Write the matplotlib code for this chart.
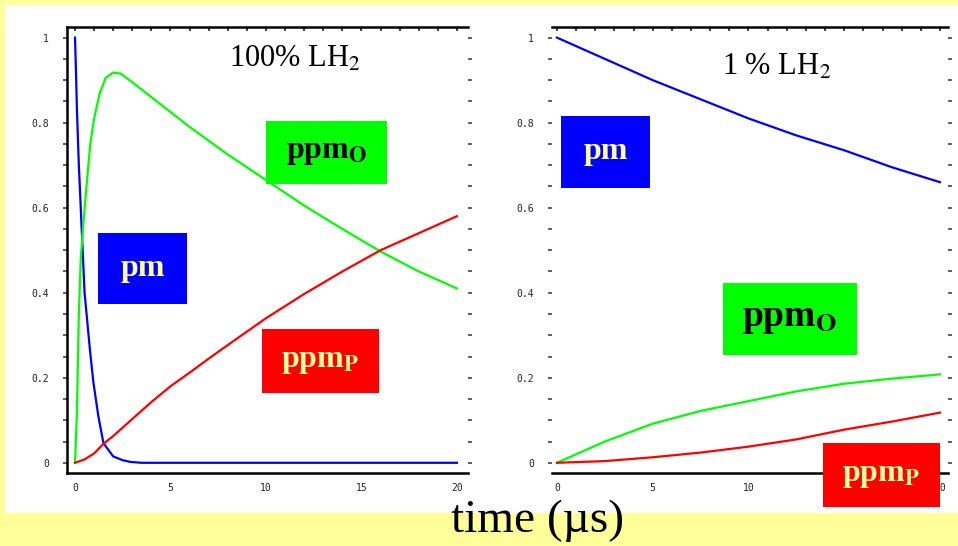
import numpy as np
import matplotlib.pyplot as plt
from matplotlib.patches import Rectangle
from matplotlib.ticker import MultipleLocator

plt.rcParams['mathtext.fontset'] = 'stix'

W, H = 958, 546

# 100% LH2 (left panel)
t_pm_L = [0, 0.05, 0.1, 0.2, 0.35, 0.5, 0.78, 0.96, 1.22, 1.49, 2.0, 2.5, 2.9, 3.5, 5, 10, 15, 20]
v_pm_L = [1.0, 0.92, 0.83, 0.70, 0.55, 0.40, 0.266, 0.19, 0.11, 0.046, 0.015, 0.006, 0.002, 0, 0, 0, 0, 0]
t_ppmo_L = [0, 0.1, 0.2, 0.3, 0.45, 0.6, 0.8, 1.0, 1.3, 1.6, 2.0, 2.4, 3, 4, 5, 6, 8, 10, 12, 14, 16, 18, 20]
v_ppmo_L = [0, 0.12, 0.35, 0.48, 0.57, 0.65, 0.75, 0.81, 0.87, 0.905, 0.918, 0.915, 0.895, 0.86, 0.825,
            0.79, 0.725, 0.665, 0.605, 0.55, 0.497, 0.45, 0.41]
t_ppmp_L = [0, 0.5, 1, 1.5, 2, 3, 4, 5, 6, 7, 8, 10, 12, 14, 16, 18, 20]
v_ppmp_L = [0, 0.008, 0.022, 0.045, 0.063, 0.103, 0.143, 0.18, 0.212, 0.245, 0.277, 0.34, 0.397,
            0.45, 0.50, 0.54, 0.58]

# 1 % LH2 (right panel)
t_R = [0, 2.5, 5, 7.5, 10, 12.5, 15, 17.5, 20]
v_pm_R = [1.0, 0.95, 0.90, 0.855, 0.81, 0.77, 0.735, 0.695, 0.66]
v_ppmo_R = [0, 0.05, 0.092, 0.122, 0.145, 0.168, 0.186, 0.198, 0.208]
v_ppmp_R = [0, 0.004, 0.013, 0.024, 0.038, 0.055, 0.078, 0.097, 0.118]

x_ticks = [0, 5, 10, 15, 20]
y_ticks = [0, 0.2, 0.4, 0.6, 0.8, 1]
y_labels = ['0', '0.2', '0.4', '0.6', '0.8', '1']

BLUE, GREEN, RED = '#0000FF', '#00FF00', '#FF0000'
YEL = '#FFFF99'


def px_rect(x0, y0, x1, y1):
    # pixel box (origin top-left) -> figure fraction [l, b, w, h]
    return [x0 / W, 1 - y1 / H, (x1 - x0) / W, (y1 - y0) / H]


fig = plt.figure(figsize=(W / 100, H / 100), dpi=100, facecolor=YEL)
fig.add_artist(Rectangle(px_rect(5, 5, W, 513)[:2], (W - 5) / W, 508 / H,
                         transform=fig.transFigure, facecolor='white', edgecolor='none', zorder=0))

axL = fig.add_axes(px_rect(67, 27, 468, 473))
axR = fig.add_axes(px_rect(552, 27, 948, 473))

axL.plot(t_pm_L, v_pm_L, color=BLUE, lw=1.6)
axL.plot(t_ppmo_L, v_ppmo_L, color=GREEN, lw=1.6)
axL.plot(t_ppmp_L, v_ppmp_L, color=RED, lw=1.6)
axR.plot(t_R, v_pm_R, color=BLUE, lw=1.6)
axR.plot(t_R, v_ppmo_R, color=GREEN, lw=1.6)
axR.plot(t_R, v_ppmp_R, color=RED, lw=1.6)

axL.set_xlim(-0.42, 20.58)
axR.set_xlim(-0.26, 20.42)
for ax in (axL, axR):
    ax.set_facecolor('none')
    ax.set_ylim(-0.024, 1.025)
    ax.set_xticks(x_ticks)
    ax.set_xticklabels([str(v) for v in x_ticks])
    ax.set_yticks(y_ticks)
    ax.set_yticklabels(y_labels)
    ax.yaxis.set_minor_locator(MultipleLocator(0.05))
    ax.xaxis.set_minor_locator(MultipleLocator(1))
    ax.tick_params(axis='y', which='both', left=True, right=True, direction='out',
                   length=3, width=1.2, color='#444444', pad=10)
    ax.tick_params(axis='x', which='both', bottom=False, top=True, direction='in',
                   length=3, width=1.2, color='#222222', pad=7)
    for lab in ax.get_xticklabels() + ax.get_yticklabels():
        lab.set_family('DejaVu Sans Mono')
        lab.set_fontsize(7)
        lab.set_color('#222222')
    ax.spines['right'].set_visible(False)
    for s in ('top', 'bottom'):
        ax.spines[s].set_linewidth(1.8)
axL.spines['left'].set_linewidth(1.8)
axR.spines['left'].set_visible(False)

# panel titles
fig.text(295 / W, 1 - 67 / H, '100% LH$_2$', ha='center', va='baseline',
         fontsize=22, family='Liberation Serif')
fig.text(777 / W, 1 - 75 / H, '1 % LH$_2$', ha='center', va='baseline',
         fontsize=22, family='Liberation Serif')


def label_box(x0, y0, x1, y1, color, text, tcolor, size=23):
    l, b, w, h = px_rect(x0, y0, x1, y1)
    fig.add_artist(Rectangle((l, b), w, h, transform=fig.transFigure,
                             facecolor=color, edgecolor='none', zorder=5))
    fig.text(l + w / 2, b + h / 2, text, ha='center', va='center', color=tcolor,
             fontsize=size, fontweight='bold', family='Liberation Serif', zorder=6)


label_box(266, 121, 387, 184, GREEN, r'ppm$_{\mathbf{O}}$', 'black')
label_box(98, 233, 187, 304, BLUE, 'pm', YEL)
label_box(262, 329, 379, 393, RED, r'ppm$_{\mathbf{P}}$', YEL)
label_box(561, 116, 650, 188, BLUE, 'pm', YEL)
label_box(723, 283, 857, 355, GREEN, r'ppm$_{\mathbf{O}}$', 'black', size=27)
label_box(823, 443, 940, 507, RED, r'ppm$_{\mathbf{P}}$', YEL)

fig.text(538 / W, 1 - 521 / H, 'time (\u00b5s)', ha='center', va='center',
         fontsize=34, family='Liberation Serif', zorder=7)

fig.savefig('out.png', dpi=100, facecolor=fig.get_facecolor())
